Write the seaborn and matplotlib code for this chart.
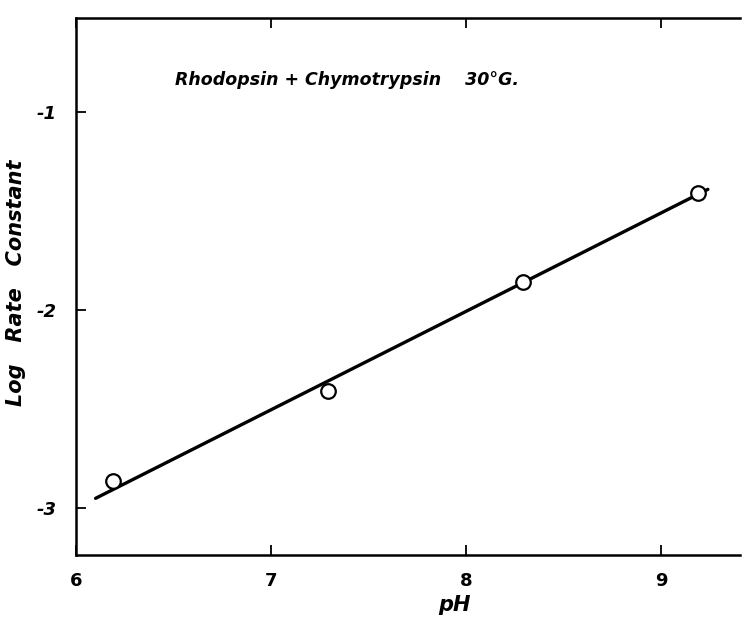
import matplotlib
matplotlib.use("Agg")
import matplotlib.pyplot as plt
import seaborn as sns

# Data
ph_points = [6.19, 7.29, 8.29, 9.19]
log_k_points = [-2.86, -2.41, -1.86, -1.41]
fit_x = [6.10, 9.24]
fit_y = [-2.95, -1.39]
x_ticks = [6, 7, 8, 9]
y_ticks = [-1, -2, -3]
title_text = "Rhodopsin + Chymotrypsin    30°G."
x_label = "pH"
y_label = "Log   Rate   Constant"

sns.set_theme(style="white")
plt.rcParams["font.family"] = ["DejaVu Sans"]
plt.rcParams["text.color"] = "black"
plt.rcParams["axes.labelcolor"] = "black"
plt.rcParams["xtick.color"] = "black"
plt.rcParams["ytick.color"] = "black"

fig = plt.figure(figsize=(7.46, 6.21), dpi=100)
ax = fig.add_axes([0.102, 0.106, 0.890, 0.865])

sns.lineplot(x=fit_x, y=fit_y, ax=ax, color="black", linewidth=2.4)
sns.scatterplot(x=ph_points, y=log_k_points, ax=ax, s=110, facecolor="white",
                edgecolor="black", linewidth=1.6, zorder=5)

ax.set_xlim(6.0, 9.405)
ax.set_ylim(-3.237, -0.525)
ax.set_xticks(x_ticks)
ax.set_xticklabels([str(t) for t in x_ticks], fontsize=13, fontweight="bold")
ax.set_yticks(y_ticks)
ax.set_yticklabels([f"-{abs(t)}" for t in y_ticks], fontsize=13, fontweight="bold",
                   style="italic")

for side in ["left", "bottom", "top"]:
    ax.spines[side].set_visible(True)
    ax.spines[side].set_color("black")
    ax.spines[side].set_linewidth(1.8)
ax.spines["right"].set_visible(False)

ax.tick_params(axis="both", direction="in", length=7, width=1.3, color="black",
               top=True, bottom=True, left=True, right=False, labeltop=False)
ax.tick_params(axis="x", pad=12)
ax.tick_params(axis="y", pad=14)

ax.set_xlabel(x_label, fontsize=15, style="italic", fontweight="bold")
ax.xaxis.set_label_coords(0.57, -0.075)
ax.set_ylabel(y_label, fontsize=15, style="italic", fontweight="bold")
ax.yaxis.set_label_coords(-0.076, 0.508)

ax.text(0.149, 0.885, title_text, transform=ax.transAxes, fontsize=12.5,
        style="italic", fontweight="bold", ha="left", va="center")

fig.savefig("out.png", dpi=100, facecolor="white")
